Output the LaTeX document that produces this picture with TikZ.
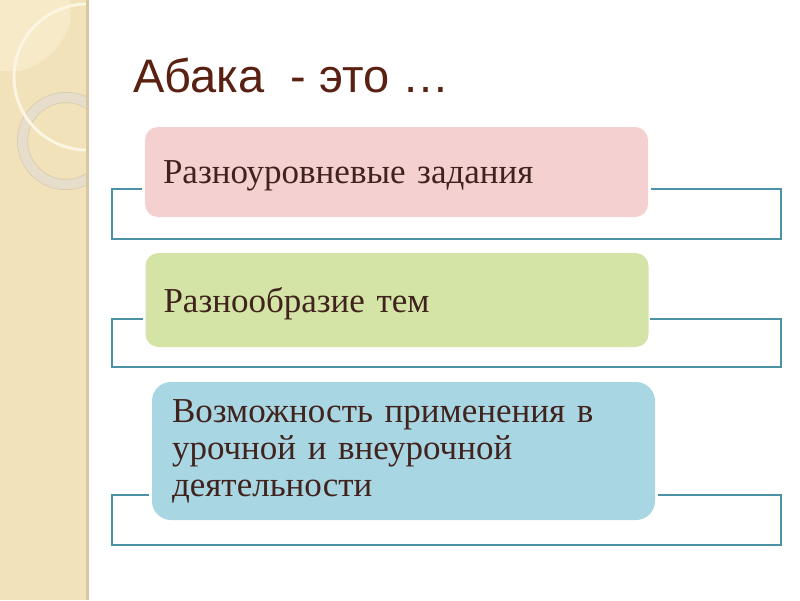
\documentclass[tikz,border=0pt]{standalone}
\usepackage{fontspec}
\setmainfont{Liberation Serif}
\newfontfamily\titlefont{Liberation Sans}
\definecolor{strip}{HTML}{F2E2B9}
\definecolor{stripedge}{HTML}{D8C7A0}
\definecolor{stripleaf}{HTML}{F6EAC9}
\definecolor{ringcol}{HTML}{E6DECB}
\definecolor{ringedge}{HTML}{D6CAB0}
\definecolor{arccol}{HTML}{FCF5E1}
\definecolor{titlecol}{HTML}{5A2012}
\definecolor{textcol}{HTML}{40231D}
\definecolor{teal}{HTML}{4A92A4}
\definecolor{pinkbox}{HTML}{F4D0D0}
\definecolor{greenbox}{HTML}{D4E4A6}
\definecolor{bluebox}{HTML}{A9D6E3}
\tikzset{
  bracket/.style={draw=teal, line width=2.6pt, line join=miter},
  itembox/.style={rounded corners=#1, minimum width=503pt, inner xsep=18pt,
     text width=467pt, align=left, text=textcol,
     font=\fontsize{35pt}{37pt}\selectfont},
}
\begin{document}
\begin{tikzpicture}[x=1pt,y=-1pt]
\useasboundingbox (0,0) rectangle (800,600);
\fill[white] (0,0) rectangle (800,600);
% left decorative strip
\fill[strip] (0,0) rectangle (87,600);
\begin{scope}
  \clip (0,0) rectangle (87,600);
  \begin{scope}
    \clip (0,0) rectangle (70,70);
    \fill[stripleaf] (0,0) circle[radius=74];
  \end{scope}
  \draw[ringedge, line width=11pt] (66,141) circle[radius=43.5];
  \draw[ringcol, line width=9.5pt] (66,141) circle[radius=43.5];
  \draw[arccol, line width=3pt] (87,77) circle[radius=73];
\end{scope}
\fill[stripedge] (86,0) rectangle (89,600);
% title
\node[anchor=base west, inner sep=0pt, text=titlecol,
      font=\titlefont\fontsize{47pt}{50pt}\selectfont] (title) at (133,92) {Абака\ \ - это …};
% boxes
\node[itembox=13pt, fill=pinkbox, minimum height=90pt, text depth=0pt] (b1) at (396.5,172)
  {Разноуровневые задания};
\node[itembox=13pt, fill=greenbox, minimum height=94pt, text depth=0pt] (b2) at (397,300)
  {Разнообразие тем};
\node[itembox=19pt, fill=bluebox, minimum height=138pt, inner xsep=20pt, text width=463pt] (b3) at (403.5,451)
  {Возможность применения в\\урочной и внеурочной\\деятельности};
% brackets
\coordinate (l1) at (142,189); \coordinate (r1) at (651,189);
\coordinate (l2) at (143,319); \coordinate (r2) at (650,319);
\coordinate (l3) at (149,495); \coordinate (r3) at (658,495);
\draw[bracket] (l1) -- (112,189) -- (112,239) -- (781,239) -- (781,189) -- (r1);
\draw[bracket] (l2) -- (112,319) -- (112,367) -- (781,367) -- (781,319) -- (r2);
\draw[bracket] (l3) -- (112,495) -- (112,545) -- (781,545) -- (781,495) -- (r3);
\end{tikzpicture}
\end{document}
